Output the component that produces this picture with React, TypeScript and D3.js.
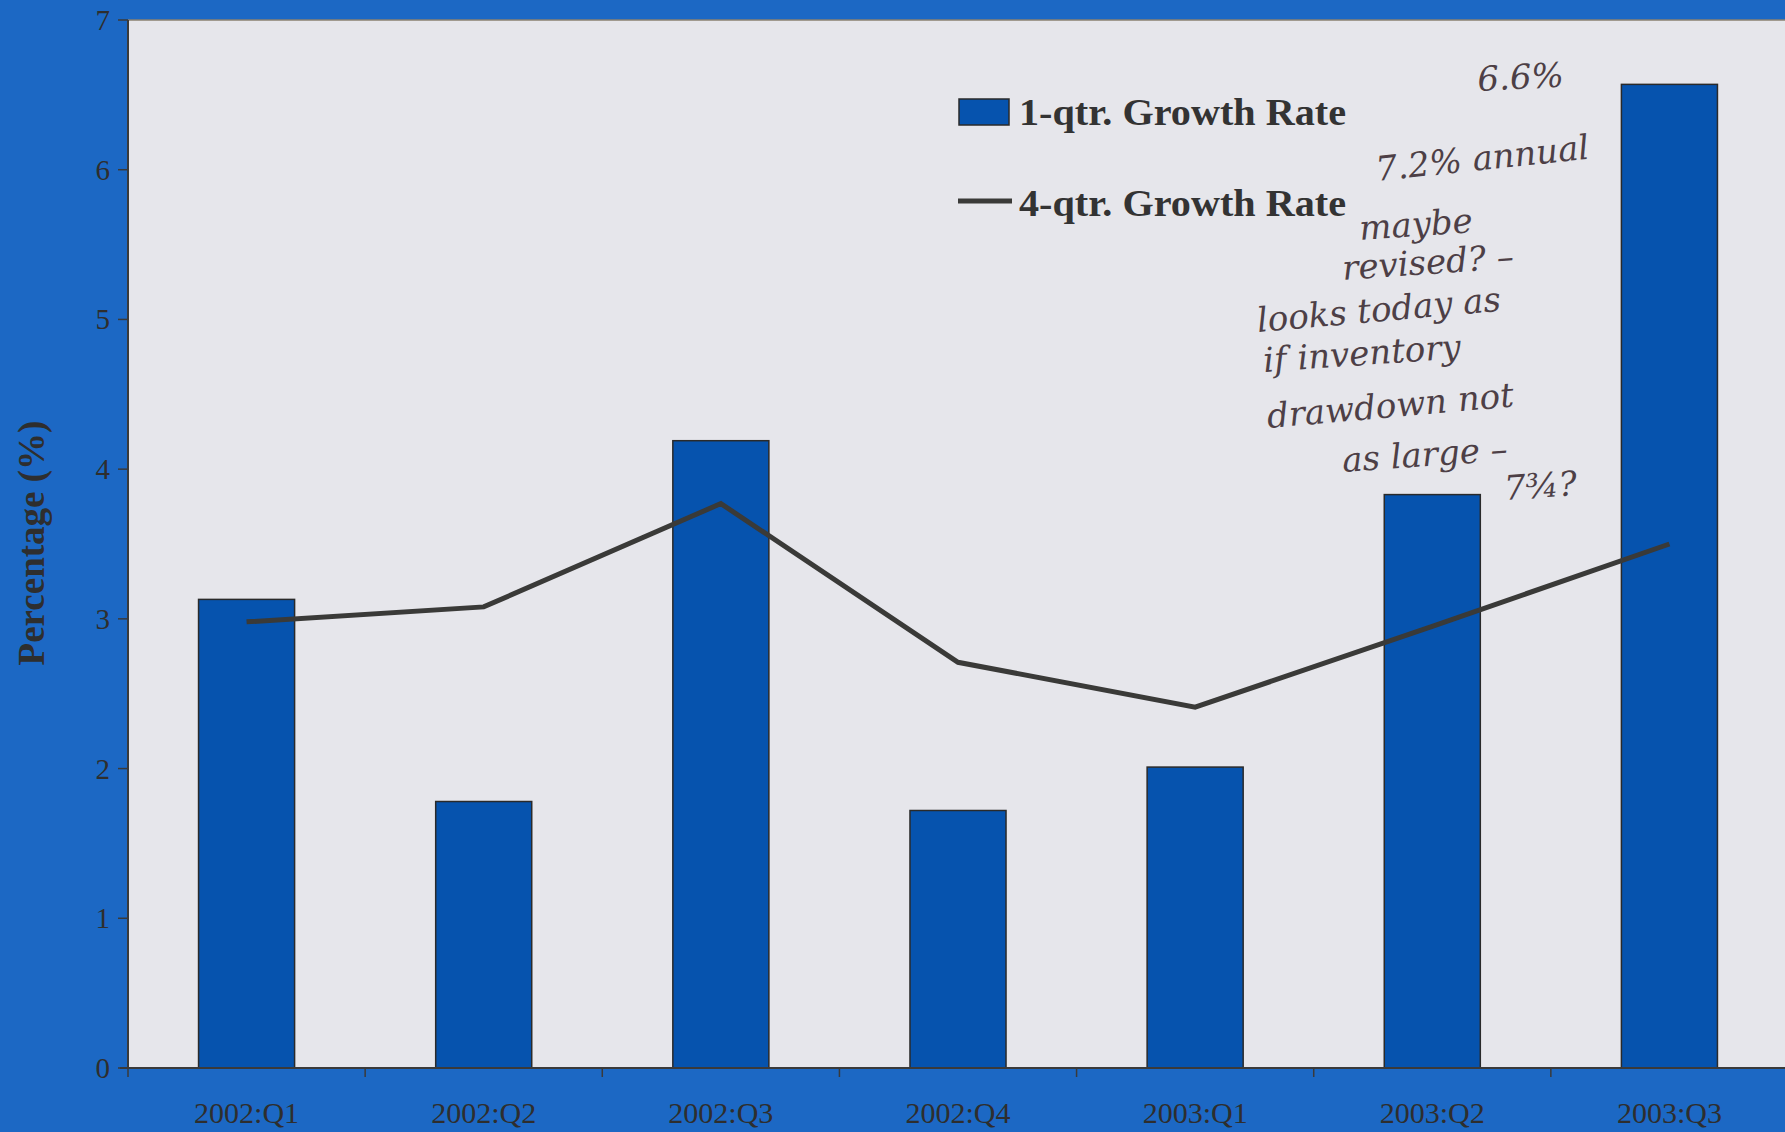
import React from "react";
import * as d3 from "d3";

const categories = ["2002:Q1", "2002:Q2", "2002:Q3", "2002:Q4", "2003:Q1", "2003:Q2", "2003:Q3"];
const oneQtr = [3.13, 1.78, 4.19, 1.72, 2.01, 3.83, 6.57];
const fourQtr = [2.98, 3.08, 3.77, 2.71, 2.41, 2.95, 3.50];
const yTicks = [0, 1, 2, 3, 4, 5, 6, 7];
const notes = [
  { t: "6.6%", x: 1478, y: 91, r: -3 },
  { t: "7.2% annual", x: 1377, y: 181, r: -6 },
  { t: "maybe", x: 1360, y: 240, r: -4 },
  { t: "revised? –", x: 1343, y: 280, r: -4 },
  { t: "looks today as", x: 1258, y: 332, r: -5 },
  { t: "if inventory", x: 1264, y: 372, r: -4 },
  { t: "drawdown not", x: 1268, y: 428, r: -5 },
  { t: "as large –", x: 1343, y: 472, r: -4 },
  { t: "7¾?", x: 1505, y: 500, r: -4 },
];

const W = 1785, H = 1132;
const L = 128, R = 1788, T = 20, B = 1068;
const OUTER = "#1c68c4";
const BAR = "#0653ae";
const PLOT = "#e6e6eb";
const INK = "#2e2e2e";

export default function App() {
  const x = d3.scaleBand<string>().domain(categories).range([L, R]).paddingInner(0.595).paddingOuter(0.2975);
  const y = d3.scaleLinear().domain([0, 7]).range([B, T]);
  const step = x.step();
  const bw = x.bandwidth();
  const line = d3.line<number>()
    .x((_, i) => (x(categories[i]) as number) + bw / 2)
    .y((d) => y(d));

  return (
    <svg width={W} height={H} style={{ position: "absolute", left: 0, top: 0, display: "block" }}>
      <rect x={0} y={0} width={W} height={H} fill={OUTER} />
      <rect x={L} y={T} width={R - L} height={B - T} fill={PLOT} />
      <line x1={L} x2={R} y1={T} y2={T} stroke="#8a8070" strokeWidth={1.5} />
      {oneQtr.map((v, i) => (
        <rect key={i} x={x(categories[i])} y={y(v)} width={bw} height={B - y(v)} fill={BAR} stroke="#2a2a2a" strokeWidth={1.5} />
      ))}
      <path d={line(fourQtr) || ""} fill="none" stroke="#3a3a38" strokeWidth={5} strokeLinejoin="miter" />
      {/* axes */}
      <line x1={L} x2={L} y1={T} y2={B} stroke="#3a3a3a" strokeWidth={2} />
      <line x1={L - 8} x2={R} y1={B} y2={B} stroke="#3a3a3a" strokeWidth={2} />
      {yTicks.map((t) => (
        <g key={t}>
          <line x1={L - 10} x2={L} y1={y(t)} y2={y(t)} stroke="#3a3a3a" strokeWidth={1.5} />
          <text x={L - 18} y={y(t) + 10} textAnchor="end" fontFamily="Liberation Serif" fontSize={29} fill={INK}>{t}</text>
        </g>
      ))}
      {categories.map((c, i) => (
        <g key={c}>
          <line x1={L + i * step} x2={L + i * step} y1={B} y2={B + 9} stroke="#3a3a3a" strokeWidth={1.5} />
          <text x={(x(c) as number) + bw / 2} y={1123} textAnchor="middle" fontFamily="Liberation Serif" fontSize={30} fill={INK}>{c}</text>
        </g>
      ))}
      <text transform={`translate(44,543) rotate(-90)`} textAnchor="middle" fontFamily="Liberation Serif" fontWeight="bold" fontSize={37} fill={INK}>Percentage (%)</text>
      {/* legend */}
      <rect x={959} y={99} width={50} height={26} fill={BAR} stroke="#2a2a2a" strokeWidth={1.5} />
      <text x={1019} y={125} fontFamily="Liberation Serif" fontWeight="bold" fontSize={38} fill="#333" textLength={327} lengthAdjust="spacingAndGlyphs">1-qtr. Growth Rate</text>
      <line x1={958} x2={1012} y1={201} y2={201} stroke="#3a3a38" strokeWidth={5} />
      <text x={1019} y={216} fontFamily="Liberation Serif" fontWeight="bold" fontSize={38} fill="#333" textLength={327} lengthAdjust="spacingAndGlyphs">4-qtr. Growth Rate</text>
      {/* handwritten notes */}
      {notes.map((n, i) => (
        <text key={i} transform={`translate(${n.x},${n.y}) rotate(${n.r})`} fontFamily="DejaVu Serif" fontStyle="italic" fontSize={34} fill="#4d3f46">{n.t}</text>
      ))}
    </svg>
  );
}
